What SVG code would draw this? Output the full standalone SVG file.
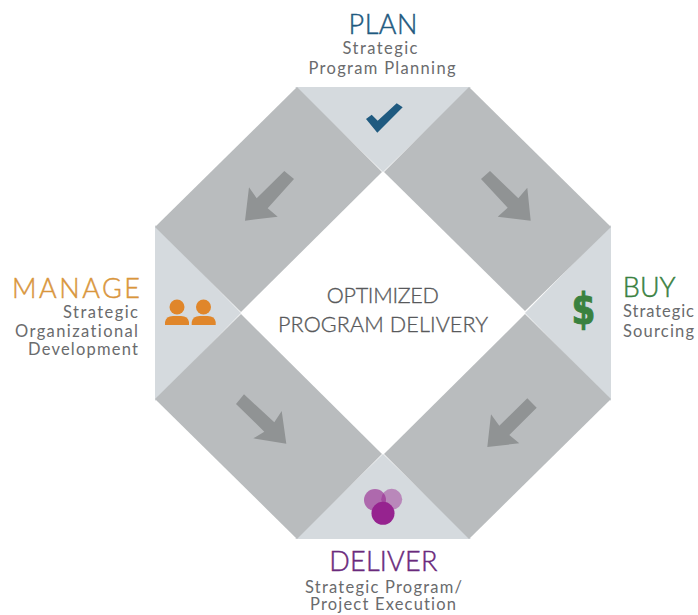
<svg xmlns="http://www.w3.org/2000/svg" width="698" height="615" viewBox="0 0 698 615">
<style>
text{font-family:Lato,"Liberation Sans",sans-serif;font-variant-ligatures:none;}
.t{font-size:27px;font-weight:300;stroke-width:.45px;}
.s{font-size:16.500px;fill:#6a6b6d;font-weight:400;}
.c{font-size:21.500px;fill:#58595b;font-weight:300;stroke:#58595b;stroke-width:.35px;}
.m{text-anchor:middle;}
.e{text-anchor:end;}
.panel{fill:#b9bcbe;}
.tri{fill:#d5dade;}
.arrow{fill:#909394;}
</style>
<rect width="698" height="615" fill="#ffffff"/>
<g id="plan">
<polygon class="tri" points="295,87 471,87 383,172"/>
<polygon fill="#1f5a80" points="366,119 377.300,132.700 402.700,107.300 396.700,103.300 377.700,120.700 371.700,114.700"/>
<text class="t m" x="383" y="34" fill="#1f5a80" stroke="#1f5a80" textLength="69">PLAN</text>
<text class="s m" x="380" y="54" textLength="75">Strategic</text>
<text class="s m" x="382" y="74" textLength="147">Program Planning</text>
</g>
<g id="buy">
<polygon class="tri" points="611,225 611,401 525,313"/>
<text transform="translate(583.500 323.700) scale(.8 1)" text-anchor="middle" font-size="43" font-weight="700" fill="#3a813f" stroke="#3a813f" stroke-width="1" style="font-family:'DejaVu Sans',sans-serif">$</text>
<text class="t" x="622.700" y="297.300" fill="#3a813f" stroke="#3a813f" textLength="53">BUY</text>
<text class="s" x="623" y="317" textLength="71">Strategic</text>
<text class="s" x="623" y="337" textLength="71">Sourcing</text>
</g>
<g id="deliver">
<polygon class="tri" points="295,539 471,539 383,454"/>
<circle cx="375" cy="500" r="11" fill="#96238f" fill-opacity=".62"/>
<circle cx="391.700" cy="499.300" r="10.500" fill="#96238f" fill-opacity=".45"/>
<circle cx="383" cy="513.300" r="11.500" fill="#96238f"/>
<text class="t m" x="383.300" y="570.700" fill="#6a2a7c" stroke="#6a2a7c" textLength="108">DELIVER</text>
<text class="s m" x="383.500" y="592.700" textLength="157">Strategic Program/</text>
<text class="s m" x="383" y="610" textLength="146">Project Execution</text>
</g>
<g id="manage">
<polygon class="tri" points="155,225 155,401 241,313"/>
<g fill="#e0862a">
<circle cx="177" cy="307" r="7.500"/>
<circle cx="203.500" cy="307" r="7.500"/>
<path d="M165 325v-3q1-6 8-6h8q7 0 8 6v3z"/>
<path d="M191.700 325v-3q1-6 8-6h8q7 0 8 6v3z"/>
</g>
<text class="t" x="12" y="297.700" fill="#d9963c" stroke="#d9963c" textLength="128">MANAGE</text>
<text class="s e" x="138" y="317.700" textLength="75">Strategic</text>
<text class="s e" x="138" y="336.700" textLength="123">Organizational</text>
<text class="s e" x="138" y="355" textLength="110">Development</text>
</g>
<g id="panels">
<polygon class="panel" points="297,87 382,172 241,312 155,227"/>
<polygon class="panel" points="469,87 384,172 525,311 611,227"/>
<polygon class="panel" points="155,399 241,314 382,454 297,539"/>
<polygon class="panel" points="611,399 525,314 384,454 469,539"/>
</g>
<g id="connectors">
<polygon class="arrow" points="284.300,171 294,179 267.700,208.300 277.700,216.700 245,220.700 249,187.300 256.700,198.300"/>
<polygon class="arrow" points="490,171 481,179 507.700,207.700 497.700,216.700 530.700,220.700 527.300,187.700 518.300,198.300"/>
<polygon class="arrow" points="244,394.300 236,404 264.300,431.700 253.300,438.300 286.300,443.700 281.700,411 274.300,422.300"/>
<polygon class="arrow" points="527.300,398.300 536.700,407.700 509.300,435 519.300,443.300 487.300,447 491,414.300 499.300,425.700"/>
</g>
<g id="center">
<text class="c m" x="382.800" y="302.700" textLength="112">OPTIMIZED</text>
<text class="c m" x="383" y="331.700" textLength="210">PROGRAM DELIVERY</text>
</g>
</svg>
